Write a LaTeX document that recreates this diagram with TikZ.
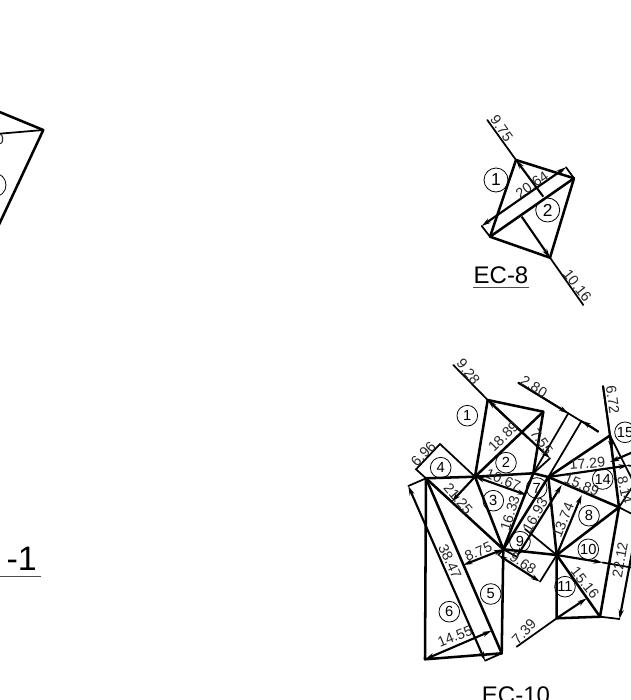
\documentclass[tikz,border=0pt]{standalone}
\usepackage{fontspec}
\setmainfont{Liberation Sans}
\usetikzlibrary{arrows.meta}
\tikzset{
 edge/.style={line width=1.9pt,line cap=round,line join=round},
 thin edge/.style={line width=1.3pt,line cap=round},
 tipped/.style={line width=1.6pt,{Stealth[length=7pt,width=3.8pt]}-{Stealth[length=7pt,width=3.8pt]}},
 tipend/.style={line width=1.6pt,-{Stealth[length=7pt,width=3.8pt]}},
 dimtext/.style={font=\fontsize{10.8pt}{10.8pt}\selectfont,inner sep=0pt,text=black!85},
 mark circle/.style={circle,draw,line width=.6pt,minimum size=15.5pt,inner sep=0pt,font=\fontsize{11pt}{11pt}\selectfont},
 big circle/.style={mark circle,minimum size=18pt,font=\fontsize{13pt}{13pt}\selectfont},
 title/.style={font=\fontsize{18pt}{18pt}\selectfont,inner sep=0pt},
}
\begin{document}
\begin{tikzpicture}[x=0.75pt,y=-0.75pt]
\useasboundingbox (0,0) rectangle (631,700);
\clip (0,0) rectangle (631,700);
% ---- cut-off figure at the left
\coordinate (Lap) at (43.3,130);
\coordinate (Lt) at (-4,110.5);
\coordinate (Lm) at (-4,134);
\coordinate (Lb) at (-4,231);
\draw[edge] (Lt) -- (Lap) -- (Lb);
\draw[thin edge] (Lm) -- (Lap);
\draw[line width=.6pt] (-6,185) circle (12);
\node[dimtext] (Lzero) at (0,139.5) {0};
\node[font=\fontsize{25.5pt}{25.5pt}\selectfont,inner sep=0pt,anchor=base east] (Lone) at (37,570.5) {-1};
\coordinate (Lu0) at (0,576.7); \coordinate (Lu1) at (41,576.7);
\draw[line width=.6pt,black!70] (Lu0) -- (Lu1);
% ---- EC-8
\coordinate (A) at (516,160);
\coordinate (B) at (574,178.3);
\coordinate (C) at (550,257.7);
\coordinate (D) at (490,236.7);
\draw[edge] (A) -- (B) -- (C) -- (D) -- cycle;
\draw[edge] (D) -- (B);
\coordinate (a0) at (487.3,120); \coordinate (a1) at (543.3,196.7);
\coordinate (c0) at (583.3,305); \coordinate (c1) at (521.7,216.7);
\coordinate (d0) at (481.7,226); \coordinate (d1) at (566,167.3);
\draw[thin edge] (a0) -- (A);
\draw[tipend] (a1) -- (A);
\draw[thin edge] (c0) -- (C);
\draw[tipend] (c1) -- (C);
\draw[tipped] (d0) -- (d1);
\draw[thin edge] (d0) -- (D);
\draw[thin edge] (d1) -- (B);
\node[big circle] (ea) at (496,180) {1};
\node[big circle] (eb) at (547.7,210) {2};
\node[dimtext,rotate=-55] (e975) at (501.7,128.3) {9.75};
\node[dimtext,rotate=-52] (e1016) at (577.3,285.7) {10.16};
\node[dimtext,rotate=35] (e2064) at (532,185) {20.64};
\node[title,anchor=base] (ec8) at (501,283) {EC-8};
\coordinate (u0) at (473,287.7); \coordinate (u1) at (529,287.7);
\draw[line width=.6pt,black!70] (u0) -- (u1);
% ---- EC-10 vertices
\coordinate (N1) at (487.7,400);
\coordinate (N2) at (543.3,411.7);
\coordinate (H1) at (475,476.7);
\coordinate (H2) at (533.3,473.3);
\coordinate (H3) at (548.3,477);
\coordinate (H4) at (503.3,549.3);
\coordinate (H5) at (556.7,555);
\coordinate (N3) at (610,435.5);
\coordinate (R) at (619,507.3);
\coordinate (N4) at (556.7,618.3);
\coordinate (N5) at (600,616.7);
\coordinate (N6) at (426,478.3);
\coordinate (BL) at (425,659.3);
\coordinate (BR) at (501.7,653.3);
% polygon edges
\draw[edge] (N1) -- (N2) -- (H2) -- (H1) -- cycle;
\draw[edge] (N2) -- (H1);
\draw[edge] (H1) -- (H4);
\draw[edge] (H2) -- (H4);
\draw[edge] (H3) -- (H4);
\draw[edge] (H2) -- (H3);
\draw[edge] (H3) -- (H5);
\draw[edge] (H4) -- (H5);
\draw[edge] (N6) -- (H1);
\draw[edge] (N6) -- (H4);
\draw[edge] (H4) -- (BR);
\draw[edge] (N6) -- (BR);
\draw[edge] (N6) -- (BL) -- (BR);
\draw[edge] (H3) -- (N3);
\draw[edge] (H3) -- (R);
\draw[edge] (N3) -- (R);
\draw[edge] (H5) -- (R);
\draw[edge] (H5) -- (N4) -- (N5) -- (R);
\draw[edge] (H5) -- (N5);
% free ends
\coordinate (p1) at (453.3,365); \coordinate (p2) at (528,438);
\draw[thin edge] (p1) -- (N1);
\draw[tipend] (p2) -- (N1);
\coordinate (p3) at (550,458.3);
\draw[tipend] (N1) -- (p3);
\draw[thin edge] (p3) -- (H2);
\coordinate (q1) at (416,469.3); \coordinate (q2) at (440,444);
\draw[thin edge] (N6) -- (q1) -- (q2) -- (H1);
\coordinate (q3) at (526.7,495);
\draw[tipped] (H1) -- (q3);
\coordinate (q4) at (451.7,501.7);
\draw[tipend] (H1) -- (q4);
\coordinate (q5) at (463.3,565);
\draw[tipped] (H4) -- (q5);
\coordinate (q6) at (408.3,486); \coordinate (q7) at (485,660.7);
\draw[tipped] (q6) -- (q7);
\draw[thin edge] (q6) -- (N6);
\draw[thin edge] (q7) -- (BR);
\coordinate (q8) at (491.7,630.7);
\draw[tipped] (BL) -- (q8);
\coordinate (r1) at (561.7,485); \coordinate (r2) at (516.7,556.7);
\draw[tipped] (r1) -- (r2);
\draw[thin edge] (r2) -- (H4);
\coordinate (r3) at (498.3,555); \coordinate (r4) at (540,581.7);
\draw[tipped] (r3) -- (r4);
\draw[thin edge] (r3) -- (H4);
\draw[thin edge] (r4) -- (H5);
\coordinate (r5) at (525,529);
\draw[thin edge] (r5) -- (H5);
\coordinate (s0) at (518.3,382.7); \coordinate (s1) at (598.3,431.7);
\coordinate (s2) at (568.3,413.3); \coordinate (s3) at (581.7,420.7);
\draw[thin edge] (s0) -- (s1);
\draw[tipend] (s0) -- (s2);
\draw[tipend] (s1) -- (s3);
\draw[thin edge] (s2) -- (H2);
\draw[thin edge] (s3) -- (H3);
\coordinate (t0) at (581.7,495);
\draw[tipend] (H5) -- (t0);
\coordinate (t1) at (603,386); \coordinate (t2) at (612,450);
\draw[thin edge] (t1) -- (N3);
\draw[tipend] (t1) -- (t2);
\coordinate (t3) at (628,465.5); \coordinate (t3b) at (640,466.5);
\draw[tipend] (H3) -- (t3);
\draw[thin edge] (t3) -- (t3b);
\coordinate (t4) at (640,449); \coordinate (t5) at (610,462);
\draw[tipend] (t4) -- (t5);
\coordinate (t6) at (640,495);
\draw[thin edge] (N3) -- (t6);
\coordinate (t7) at (602.5,562.5); \coordinate (t7b) at (640,569);
\draw[tipend] (H5) -- (t7);
\draw[thin edge] (t7) -- (t7b);
\coordinate (t8) at (619.5,619);
\draw[thin edge] (N5) -- (t8);
\coordinate (t9) at (640,510);
\draw[tipend] (t9) -- (t8);
\coordinate (t10) at (640,518);
\draw[thin edge] (R) -- (t10);
\coordinate (t11) at (640,475);
\draw[thin edge] (R) -- (t11);
\coordinate (w0) at (516.7,646.7); \coordinate (w1) at (586.7,598.3);
\draw[thin edge] (w0) -- (N4);
\draw[tipend] (N4) -- (w1);
% circled numbers
\node[mark circle] (c1n) at (467.3,415.7) {1};
\node[mark circle] (c2n) at (506,462.7) {2};
\node[mark circle] (c3n) at (493.3,500.7) {3};
\node[mark circle] (c4n) at (440.7,467.7) {4};
\node[mark circle] (c5n) at (490.7,594) {5};
\node[mark circle] (c6n) at (449.3,611.7) {6};
\node[mark circle] (c7n) at (536.7,488) {7};
\node[mark circle] (c8n) at (589,515.7) {8};
\node[mark circle] (c9n) at (520,541.7) {9};
\node[mark circle] (c10n) at (588.3,549.3) {10};
\node[mark circle] (c11n) at (565,586.7) {11};
\node[mark circle] (c14n) at (602.7,479) {14};
\node[mark circle] (c15n) at (625,432.3) {15};
% dimension labels
\node[dimtext,rotate=-52] (l1) at (468.3,371.7) {9.28};
\node[dimtext,rotate=-31] (l2) at (534,386.7) {2.80};
\node[dimtext,rotate=-82] (l3) at (612.7,400) {6.72};
\node[dimtext,rotate=45] (l4) at (423.3,454) {6.96};
\node[dimtext,rotate=45] (l5) at (503.3,436.7) {18.89};
\node[dimtext,rotate=-55] (l6) at (541.7,441.7) {7.55};
\node[dimtext,rotate=-22] (l7) at (503.3,480) {10.67};
\node[dimtext,rotate=-50] (l8) at (458.3,499) {21.25};
\node[dimtext,rotate=73] (l9) at (510,513.3) {16.33};
\node[dimtext,rotate=60] (l10) at (535,515) {16.93};
\node[dimtext,rotate=68] (l11) at (563,520) {13.74};
\node[dimtext,rotate=5] (l12) at (587.3,463.3) {17.29};
\node[dimtext,rotate=-22] (l13) at (581.7,485) {15.89};
\node[dimtext,rotate=-65] (l14) at (450,561.7) {38.47};
\node[dimtext,rotate=23] (l15) at (478.3,551.7) {8.75};
\node[dimtext,rotate=22] (l16) at (455,636.7) {14.55};
\node[dimtext,rotate=-33] (l17) at (523,563) {9.68};
\node[dimtext,rotate=47] (l18) at (524,631.7) {7.39};
\node[dimtext,rotate=-52] (l19) at (585,583) {15.16};
\node[dimtext,rotate=80] (l20) at (620,560) {22.12};
\node[dimtext,rotate=-78] (l21) at (625,490) {8.14};
\node[title,anchor=base] (ec10) at (516,703) {EC-10};
\end{tikzpicture}
\end{document}
